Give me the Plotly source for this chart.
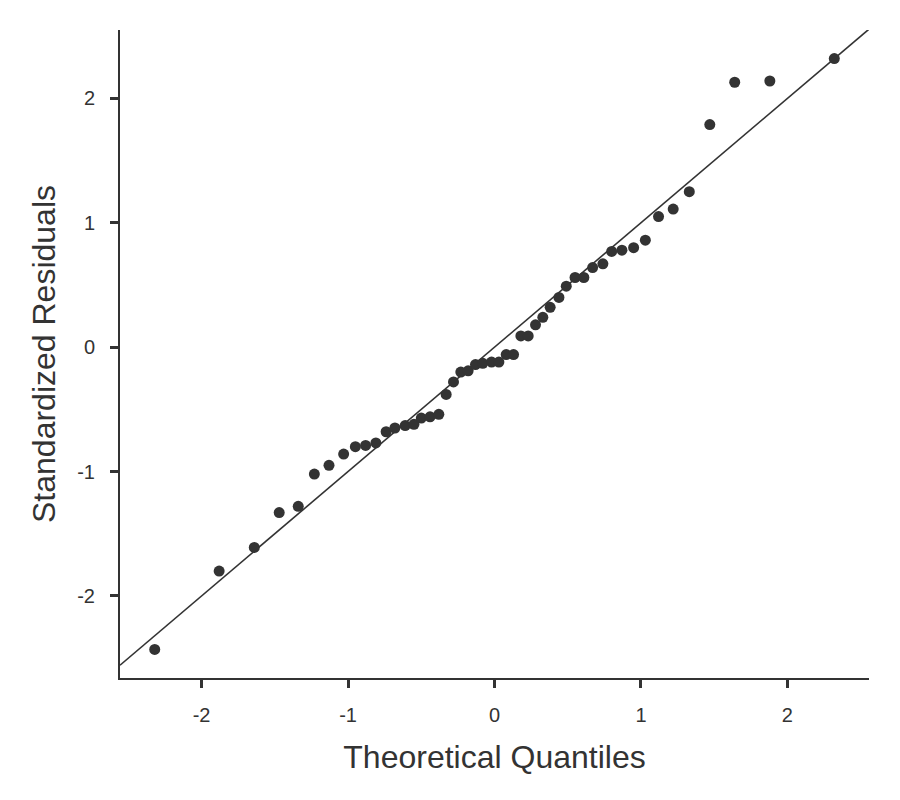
import plotly.graph_objects as go

# theoretical normal quantiles vs standardized residuals
theoretical = [-2.32, -1.88, -1.64, -1.47, -1.34, -1.23, -1.13, -1.03, -0.95, -0.88,
               -0.81, -0.74, -0.68, -0.61, -0.55, -0.50, -0.44, -0.38, -0.33, -0.28,
               -0.23, -0.18, -0.13, -0.08, -0.02, 0.03, 0.08, 0.13, 0.18, 0.23,
               0.28, 0.33, 0.38, 0.44, 0.49, 0.55, 0.61, 0.67, 0.74, 0.80,
               0.87, 0.95, 1.03, 1.12, 1.22, 1.33, 1.47, 1.64, 1.88, 2.32]
residuals = [-2.43, -1.80, -1.61, -1.33, -1.28, -1.02, -0.95, -0.86, -0.80, -0.79,
             -0.77, -0.68, -0.65, -0.63, -0.62, -0.57, -0.56, -0.54, -0.38, -0.28,
             -0.20, -0.19, -0.14, -0.13, -0.12, -0.12, -0.06, -0.06, 0.09, 0.09,
             0.18, 0.24, 0.32, 0.40, 0.49, 0.56, 0.56, 0.64, 0.67, 0.77,
             0.78, 0.80, 0.86, 1.05, 1.11, 1.25, 1.79, 2.13, 2.14, 2.32]

x_range = [-2.557, 2.557]
y_range = [-2.66, 2.55]
tick_vals = [-2, -1, 0, 1, 2]
tick_text = ["-2", "-1", "0", "1", "2"]

ink = "#333333"

fig = go.Figure()

# reference line y = x across the whole x range
fig.add_trace(go.Scatter(x=x_range, y=x_range, mode="lines",
                         line=dict(color=ink, width=1.6), hoverinfo="skip"))

fig.add_trace(go.Scatter(x=theoretical, y=residuals, mode="markers",
                         marker=dict(color=ink, size=11)))

axis_style = dict(showgrid=False, zeroline=False, showline=True, linecolor=ink,
                  linewidth=2, ticks="outside", ticklen=8, tickwidth=2.5,
                  tickcolor=ink, tickvals=tick_vals, ticktext=tick_text,
                  tickfont=dict(size=20, color=ink))

fig.update_xaxes(range=x_range, ticklabelstandoff=10,
                 title=dict(text="Theoretical Quantiles",
                            font=dict(size=32, color=ink), standoff=21),
                 **axis_style)
fig.update_yaxes(range=y_range, ticklabelstandoff=11,
                 title=dict(text="Standardized Residuals",
                            font=dict(size=32, color=ink), standoff=12),
                 **axis_style)

# the page body adds 8px on the left and top, so margins are shifted by that
fig.update_layout(width=900, height=800, showlegend=False,
                  plot_bgcolor="white", paper_bgcolor="white",
                  font=dict(family="Liberation Sans, Arial, sans-serif", color=ink),
                  margin=dict(l=112, r=39, t=22, b=130))

fig.write_html("out.html")
